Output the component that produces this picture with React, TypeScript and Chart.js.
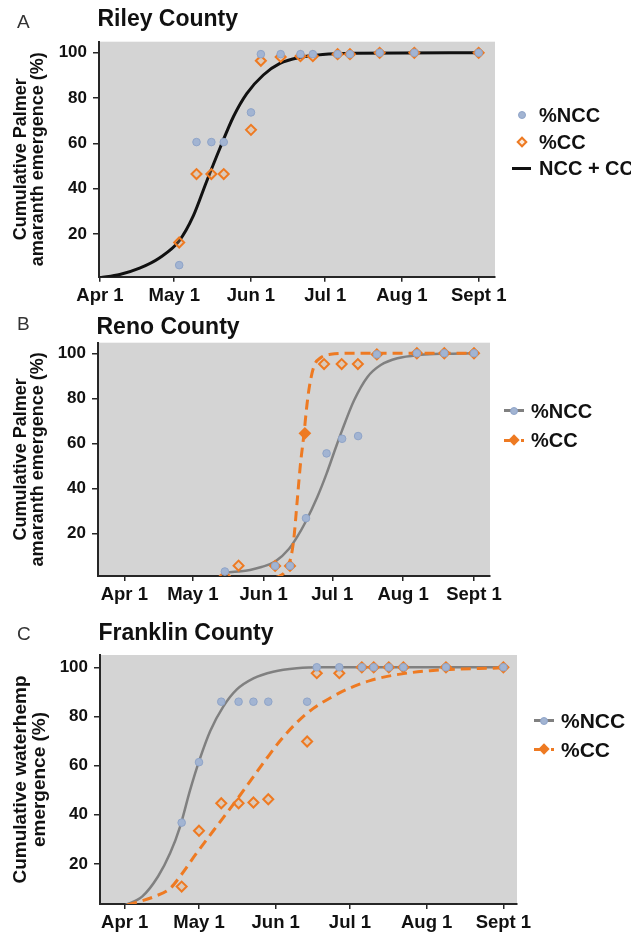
import React, { useEffect, useRef } from "react";
import { Chart, registerables } from "chart.js";

Chart.register(...registerables);

// ---------- shared axis data ----------
const tickDays = [0, 30, 61, 91, 122, 153];
const tickLabels = ["Apr 1", "May 1", "Jun 1", "Jul 1", "Aug 1", "Sept 1"];
const yTicks = [20, 40, 60, 80, 100];

// ---------- A: Riley County ----------
const rileyDays = [32, 39, 45, 50, 61, 65, 73, 81, 86, 96, 101, 113, 127, 153];
const rileyNcc = [6.3, 60.6, 60.6, 60.6, 73.7, 99.4, 99.4, 99.4, 99.4, 99.4, 99.4, 100, 100, 100];
const rileyCc = [16.3, 46.5, 46.5, 46.5, 66, 96.5, 98.2, 98.5, 98.5, 99.4, 99.4, 100, 100, 100];
const rileyFitDays = [0, 8, 16, 24, 32, 37.7, 43, 48.5, 54, 59.3, 66, 72.7, 81, 90, 103, 153];
const rileyFit = [0.8, 2.2, 5, 9.5, 17, 28, 43, 58, 72, 82, 90.2, 95.3, 98, 99.3, 99.8, 100];

// ---------- B: Reno County ----------
const renoNccDays = [44, 66, 72.5, 79.5, 88.5, 95.3, 102.3, 110.5, 128, 140, 153];
const renoNcc = [3, 5.5, 5.5, 26.7, 55.5, 62, 63.2, 99.5, 100, 100, 100];
const renoCcDays = [44, 50, 66, 72.5, 79, 87.4, 95.1, 102.2, 110.5, 128, 140, 153];
const renoCc = [1, 5.6, 5.5, 5.5, 64.4, 95.2, 95.2, 95.2, 99.5, 100, 100, 100];
const renoNccFitDays = [44, 50, 55, 60, 66, 72, 75.7, 79.3, 84.4, 88.5, 92.5, 95.2, 100.5, 106.4, 112.2, 119.5, 129.7, 140, 153];
const renoNccFit = [2.5, 3, 3.7, 5, 7.4, 13, 18.5, 25, 36, 46.5, 58, 65.5, 79, 89.5, 94.8, 97.8, 99.3, 99.8, 100];
const renoCcFitDays = [66, 68, 70, 72, 74, 75.7, 77, 78.6, 79.8, 80.8, 82.9, 85.9, 90.3, 100, 153];
const renoCcFit = [0.2, 1, 2.5, 6, 16, 35, 50, 64, 76, 84, 94, 98, 99.6, 100, 100];
const renoCcFilledIndex = 4;

// ---------- C: Franklin County ----------
const franklinDays = [23, 30, 39, 46, 52, 58, 73.7, 77.6, 86.7, 95.8, 100.6, 106.7, 112.6, 129.8, 153];
const franklinNcc = [36.8, 61.4, 86, 86, 86, 86, 86, 100, 100, 100, 100, 100, 100, 100, 100];
const franklinCc = [10.8, 33.5, 44.7, 44.7, 45, 46.3, 69.8, 97.6, 97.6, 100, 100, 100, 100, 100, 100];
const franklinNccFitDays = [0, 7, 13.5, 18.4, 22.3, 26.4, 30.1, 34.5, 39.8, 45.3, 52, 60, 69.5, 80, 153];
const franklinNccFit = [3.2, 6.7, 15, 24.5, 35, 50, 62, 74, 84, 91, 95.5, 98.2, 99.6, 100, 100];
const franklinCcFitDays = [1, 11.9, 18.4, 22.4, 29.1, 35.8, 45.9, 52, 57.4, 62.7, 69.5, 76.2, 83, 89.7, 99.1, 109.9, 123.4, 153];
const franklinCcFit = [3.3, 6.7, 10.1, 15, 24.5, 33.5, 47, 55.5, 63, 70, 77.5, 83.3, 87.5, 91, 94.6, 97, 98.6, 99.8];

// ---------- styles ----------
const FONT = "'Liberation Sans', Arial, Helvetica, sans-serif";
const PLOT_BG = "#d4d4d4";
const BLUE = "#a2b4d2";
const BLUE_EDGE = "#8fa4c8";
const ORANGE = "#ee7a22";
const ORANGE_FILL = "rgba(240,170,110,0.25)";
const GRAY_LINE = "#808080";
const AXIS = "#262626";

const pts = (xs: number[], ys: number[]) => xs.map((x, i) => ({ x, y: ys[i] }));

const bgPlugin = {
  id: "plotBg",
  beforeDraw(chart: any) {
    const { ctx, chartArea } = chart;
    if (!chartArea) return;
    ctx.save();
    ctx.fillStyle = PLOT_BG;
    ctx.fillRect(chartArea.left, chartArea.top, chartArea.right - chartArea.left, chartArea.bottom - chartArea.top);
    ctx.restore();
  },
};

const nccPoints = (xs: number[], ys: number[]) => ({
  label: "%NCC",
  data: pts(xs, ys),
  showLine: false,
  pointStyle: "circle",
  pointRadius: 3.8,
  pointBackgroundColor: BLUE,
  pointBorderColor: BLUE_EDGE,
  pointBorderWidth: 1,
});

const ccPoints = (xs: number[], ys: number[], filledIndex = -1) => ({
  label: "%CC",
  data: pts(xs, ys),
  showLine: false,
  pointStyle: "rectRot",
  pointRadius: 5,
  pointBackgroundColor: (c: any) => (c.dataIndex === filledIndex ? ORANGE : ORANGE_FILL),
  pointBorderColor: ORANGE,
  pointBorderWidth: 2,
});

const fitLine = (xs: number[], ys: number[], color: string, width: number, dash: number[] = []) => ({
  label: "fit",
  data: pts(xs, ys),
  showLine: true,
  pointRadius: 0,
  borderColor: color,
  borderWidth: width,
  borderDash: dash,
  cubicInterpolationMode: "monotone",
  fill: false,
});

type LegendItem = { kind: "circle" | "diamond" | "black" | "grayline" | "orangeline"; mx: number; text: string; tx: number; y: number; size: number };

type Spec = {
  top: number;
  height: number;
  plot: { left: number; top: number; right: number; bottom: number };
  xRange: [number, number];
  yRange: [number, number];
  yTitle: string[];
  yTitleSize: number;
  yTitleLine: number;
  titlePad: number;
  letter: string;
  letterTop: number;
  title: string;
  titleTop: number;
  datasets: any[];
  legend: LegendItem[];
};

function Marker({ item }: { item: LegendItem }) {
  const { kind, mx, y } = item;
  const circle = (
    <div style={{ position: "absolute", left: mx - 4, top: y - 4, width: 8, height: 8, borderRadius: "50%", background: BLUE, boxSizing: "border-box", border: `1px solid ${BLUE_EDGE}` }} />
  );
  if (kind === "circle") return circle;
  if (kind === "diamond")
    return (
      <div style={{ position: "absolute", left: mx - 4, top: y - 4, width: 8, height: 8, transform: "rotate(45deg)", boxSizing: "border-box", border: `2px solid ${ORANGE}`, background: ORANGE_FILL }} />
    );
  if (kind === "black")
    return <div style={{ position: "absolute", left: mx - 9, top: y - 1.5, width: 19, height: 3, background: "#111" }} />;
  if (kind === "grayline")
    return (
      <>
        <div style={{ position: "absolute", left: mx - 10, top: y - 1.5, width: 20, height: 3, background: GRAY_LINE }} />
        {circle}
      </>
    );
  return (
    <>
      <div style={{ position: "absolute", left: mx - 10, top: y - 1.5, width: 6, height: 3, background: ORANGE }} />
      <div style={{ position: "absolute", left: mx + 7, top: y - 1.5, width: 3, height: 3, background: ORANGE }} />
      <div style={{ position: "absolute", left: mx - 4, top: y - 4, width: 8, height: 8, transform: "rotate(45deg)", background: ORANGE }} />
    </>
  );
}

function Panel({ spec }: { spec: Spec }) {
  const ref = useRef<HTMLCanvasElement>(null);
  useEffect(() => {
    const W = 631;
    const H = spec.height;
    const { plot } = spec;
    const chart = new Chart(ref.current as HTMLCanvasElement, {
      type: "scatter",
      data: { datasets: spec.datasets },
      plugins: [bgPlugin],
      options: {
        responsive: false,
        animation: false,
        events: [],
        layout: { padding: { left: 0, top: plot.top, right: W - plot.right, bottom: 0 } },
        plugins: { legend: { display: false }, tooltip: { enabled: false }, title: { display: false } },
        scales: {
          x: {
            type: "linear",
            min: spec.xRange[0],
            max: spec.xRange[1],
            afterFit: (s: any) => {
              s.height = H - plot.bottom;
            },
            afterBuildTicks: (s: any) => {
              s.ticks = tickDays.map((v) => ({ value: v }));
            },
            ticks: {
              autoSkip: false,
              maxRotation: 0,
              padding: 3,
              color: "#111",
              font: { family: FONT, size: 18.5, weight: "bold" },
              callback: (_v: any, i: number) => tickLabels[i],
            },
            grid: { display: true, drawOnChartArea: false, drawTicks: true, tickLength: 5, color: AXIS, lineWidth: 1.5 },
            border: { display: true, color: AXIS, width: 2 },
          },
          y: {
            type: "linear",
            min: spec.yRange[0],
            max: spec.yRange[1],
            afterFit: (s: any) => {
              s.width = plot.left;
            },
            afterBuildTicks: (s: any) => {
              s.ticks = yTicks.map((v) => ({ value: v }));
            },
            ticks: { padding: 6, color: "#111", font: { family: FONT, size: 17, weight: "bold" } },
            grid: { display: true, drawOnChartArea: false, drawTicks: true, tickLength: 6, color: AXIS, lineWidth: 1.5 },
            border: { display: true, color: AXIS, width: 2 },
            title: {
              display: true,
              text: spec.yTitle,
              color: "#111",
              font: { family: FONT, size: spec.yTitleSize, weight: "bold", lineHeight: `${spec.yTitleLine}px` },
              padding: { top: spec.titlePad, bottom: 0 },
            },
          },
        },
      } as any,
    });
    return () => chart.destroy();
  }, [spec]);

  return (
    <div style={{ position: "absolute", left: 0, top: spec.top, width: 631, height: spec.height, overflow: "hidden" }}>
      <canvas ref={ref} width={631} height={spec.height} style={{ position: "absolute", left: 0, top: 0, width: 631, height: spec.height }} />
      <div style={{ position: "absolute", left: 17, top: spec.letterTop, fontFamily: FONT, fontSize: 19, lineHeight: "19px", color: "#333" }}>{spec.letter}</div>
      <div style={{ position: "absolute", left: spec.plot.left - 1.5, top: spec.titleTop, fontFamily: FONT, fontSize: 23, lineHeight: "23px", fontWeight: "bold", color: "#111", whiteSpace: "nowrap" }}>
        {spec.title}
      </div>
      {spec.legend.map((it, i) => (
        <React.Fragment key={i}>
          <Marker item={it} />
          <div style={{ position: "absolute", left: it.tx, top: it.y - it.size / 2, fontFamily: FONT, fontSize: it.size, lineHeight: `${it.size}px`, fontWeight: "bold", color: "#111", whiteSpace: "nowrap" }}>
            {it.text}
          </div>
        </React.Fragment>
      ))}
    </div>
  );
}

const specA: Spec = {
  top: 0,
  height: 305,
  plot: { left: 99, top: 41.7, right: 495, bottom: 276.7 },
  xRange: [-0.4, 159.6],
  yRange: [1.2, 104.9],
  yTitle: ["Cumulative Palmer", "amaranth emergence (%)"],
  yTitleSize: 18,
  yTitleLine: 17.5,
  titlePad: 12,
  letter: "A",
  letterTop: 12,
  title: "Riley County",
  titleTop: 7.2,
  datasets: [
    nccPoints(rileyDays, rileyNcc),
    ccPoints(rileyDays, rileyCc),
    fitLine(rileyFitDays, rileyFit, "#111", 3),
  ],
  legend: [
    { kind: "circle", mx: 522, text: "%NCC", tx: 539, y: 115, size: 20 },
    { kind: "diamond", mx: 522, text: "%CC", tx: 539, y: 141.5, size: 20 },
    { kind: "black", mx: 521, text: "NCC + CC", tx: 539, y: 168, size: 20 },
  ],
};

const specB: Spec = {
  top: 305,
  height: 310,
  plot: { left: 98, top: 37.7, right: 490, bottom: 271 },
  xRange: [-11.5, 160],
  yRange: [1.0, 104.7],
  yTitle: ["Cumulative Palmer", "amaranth emergence (%)"],
  yTitleSize: 18,
  yTitleLine: 17.5,
  titlePad: 12,
  letter: "B",
  letterTop: 9,
  title: "Reno County",
  titleTop: 9.5,
  datasets: [
    nccPoints(renoNccDays, renoNcc),
    ccPoints(renoCcDays, renoCc, renoCcFilledIndex),
    fitLine(renoCcFitDays, renoCcFit, ORANGE, 3, [10, 6]),
    fitLine(renoNccFitDays, renoNccFit, GRAY_LINE, 2.5),
  ],
  legend: [
    { kind: "grayline", mx: 514, text: "%NCC", tx: 531, y: 105.7, size: 20 },
    { kind: "orangeline", mx: 514, text: "%CC", tx: 531, y: 135, size: 20 },
  ],
};

const specC: Spec = {
  top: 615,
  height: 320,
  plot: { left: 100, top: 40, right: 517, bottom: 289 },
  xRange: [-10, 158.5],
  yRange: [3.7, 105],
  yTitle: ["Cumulative waterhemp", "emergence (%)"],
  yTitleSize: 19,
  yTitleLine: 19,
  titlePad: 11.5,
  letter: "C",
  letterTop: 8.5,
  title: "Franklin County",
  titleTop: 6.3,
  datasets: [
    nccPoints(franklinDays, franklinNcc),
    ccPoints(franklinDays, franklinCc),
    fitLine(franklinCcFitDays, franklinCcFit, ORANGE, 3, [10, 6]),
    fitLine(franklinNccFitDays, franklinNccFit, GRAY_LINE, 2.5),
  ],
  legend: [
    { kind: "grayline", mx: 544, text: "%NCC", tx: 561, y: 105.7, size: 21 },
    { kind: "orangeline", mx: 544, text: "%CC", tx: 561, y: 134.3, size: 21 },
  ],
};

export default function App() {
  return (
    <div style={{ position: "absolute", left: 0, top: 0, width: 631, height: 935, background: "#fff", overflow: "hidden" }}>
      <Panel spec={specA} />
      <Panel spec={specB} />
      <Panel spec={specC} />
    </div>
  );
}
